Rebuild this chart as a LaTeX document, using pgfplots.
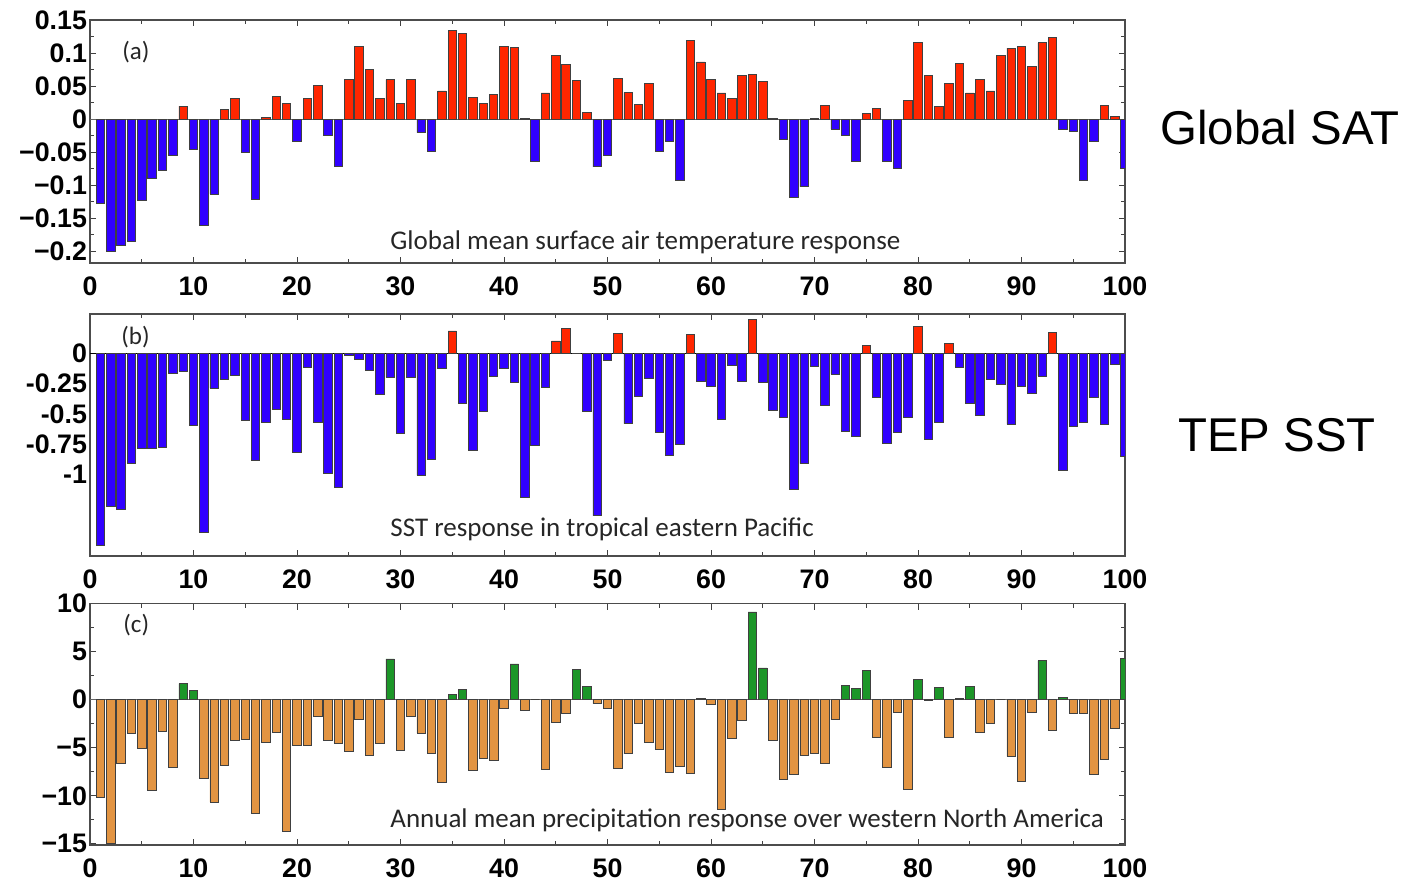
\documentclass[border=0pt]{standalone}
\usepackage{pgfplots}
\pgfplotsset{compat=1.18}
\usepackage{pgfplotstable}
\usepackage{fontspec}
\setmainfont{Liberation Sans}
\newfontfamily\carlito{Carlito}

\definecolor{myred}{RGB}{255,38,0}
\definecolor{myblue}{RGB}{48,0,255}
\definecolor{myorange}{RGB}{226,148,66}
\definecolor{mygreen}{RGB}{28,150,40}

\pgfplotstableread{
x y
1 -0.127
2 -0.200
3 -0.191
4 -0.185
5 -0.123
6 -0.089
7 -0.078
8 -0.054
9 0.020
10 -0.046
11 -0.160
12 -0.113
13 0.015
14 0.032
15 -0.050
16 -0.121
17 0.003
18 0.035
19 0.024
20 -0.033
21 0.031
22 0.051
23 -0.025
24 -0.071
25 0.060
26 0.110
27 0.076
28 0.032
29 0.060
30 0.024
31 0.060
32 -0.020
33 -0.048
34 0.043
35 0.134
36 0.130
37 0.033
38 0.024
39 0.038
40 0.110
41 0.109
42 0.001
43 -0.063
44 0.040
45 0.097
46 0.083
47 0.059
48 0.011
49 -0.072
50 -0.054
51 0.062
52 0.041
53 0.023
54 0.054
55 -0.048
56 -0.034
57 -0.092
58 0.120
59 0.087
60 0.060
61 0.040
62 0.032
63 0.066
64 0.068
65 0.057
66 0.001
67 -0.031
68 -0.119
69 -0.102
70 0.002
71 0.021
72 -0.015
73 -0.024
74 -0.063
75 0.009
76 0.017
77 -0.063
78 -0.074
79 0.028
80 0.116
81 0.066
82 0.020
83 0.055
84 0.084
85 0.040
86 0.061
87 0.043
88 0.097
89 0.108
90 0.111
91 0.080
92 0.116
93 0.124
94 -0.016
95 -0.018
96 -0.092
97 -0.034
98 0.021
99 0.004
100 -0.074
}\sat

\pgfplotstableread{
x y
1 -1.584
2 -1.265
3 -1.284
4 -0.908
5 -0.784
6 -0.784
7 -0.773
8 -0.168
9 -0.149
10 -0.597
11 -1.480
12 -0.286
13 -0.217
14 -0.182
15 -0.556
16 -0.886
17 -0.567
18 -0.462
19 -0.542
20 -0.820
21 -0.116
22 -0.572
23 -0.990
24 -1.106
25 -0.020
26 -0.050
27 -0.140
28 -0.338
29 -0.198
30 -0.660
31 -0.201
32 -1.007
33 -0.877
34 -0.127
35 0.184
36 -0.415
37 -0.800
38 -0.481
39 -0.193
40 -0.127
41 -0.237
42 -1.191
43 -0.756
44 -0.281
45 0.102
46 0.204
47 0.000
48 -0.481
49 -1.339
50 -0.060
51 0.165
52 -0.580
53 -0.358
54 -0.204
55 -0.655
56 -0.844
57 -0.748
58 0.157
59 -0.231
60 -0.272
61 -0.547
62 -0.102
63 -0.231
64 0.281
65 -0.237
66 -0.468
67 -0.528
68 -1.125
69 -0.910
70 -0.105
71 -0.426
72 -0.171
73 -0.646
74 -0.688
75 0.061
76 -0.366
77 -0.743
78 -0.649
79 -0.531
80 0.220
81 -0.710
82 -0.572
83 0.080
84 -0.118
85 -0.415
86 -0.509
87 -0.215
88 -0.259
89 -0.586
90 -0.272
91 -0.327
92 -0.187
93 0.171
94 -0.963
95 -0.605
96 -0.572
97 -0.363
98 -0.586
99 -0.091
100 -0.847
}\sst

\pgfplotstableread{
x y
1 -10.14
2 -15.00
3 -6.60
4 -3.47
5 -5.07
6 -9.44
7 -3.30
8 -7.01
9 1.67
10 0.97
11 -8.16
12 -10.66
13 -6.84
14 -4.24
15 -4.17
16 -11.88
17 -4.41
18 -3.40
19 -13.68
20 -4.76
21 -4.76
22 -1.77
23 -4.20
24 -4.58
25 -5.38
26 -2.01
27 -5.80
28 -4.58
29 4.24
30 -5.28
31 -1.70
32 -3.47
33 -5.59
34 -8.65
35 0.56
36 1.08
37 -7.40
38 -6.11
39 -6.35
40 -0.90
41 3.72
42 -1.11
43 0.00
44 -7.26
45 -2.33
46 -1.46
47 3.16
48 1.42
49 -0.42
50 -0.87
51 -7.19
52 -5.63
53 -2.43
54 -4.44
55 -5.17
56 -7.57
57 -6.94
58 -7.71
59 0.10
60 -0.52
61 -11.42
62 -4.06
63 -2.15
64 9.13
65 3.30
66 -4.24
67 -8.30
68 -7.81
69 -5.80
70 -5.63
71 -6.67
72 -2.08
73 1.46
74 1.15
75 3.06
76 -3.89
77 -7.01
78 -1.35
79 -9.34
80 2.12
81 -0.05
82 1.25
83 -3.89
84 0.10
85 1.39
86 -3.37
87 -2.50
88 0.00
89 -5.90
90 -8.47
91 -1.35
92 4.06
93 -3.19
94 0.28
95 -1.46
96 -1.46
97 -7.78
98 -6.25
99 -3.02
100 4.27
}\pr

\pgfplotsset{
  panel/.style={
    scale only axis,
    width=517.5bp,
    anchor=north west,
    xmin=0, xmax=100,
    xtick={0,10,...,100},
    minor x tick num=1,
    tick align=inside,
    major tick length=3bp,
    minor tick length=2bp,
    tick style={black!75, line width=0.5bp},
    axis line style={black!70, line width=0.7bp},
    tick label style={font=\fontsize{13.4bp}{14bp}\selectfont\bfseries},
    /pgf/number format/assume math mode=true,
    xticklabel style={yshift=-3.5bp},
    yticklabel style={xshift=2bp},
  },
  barz/.style={ybar, bar width=0.82, bar shift=0pt, draw=black!75, line width=0.4bp},
}

\begin{document}
\begin{tikzpicture}
\useasboundingbox (0bp,0bp) rectangle (707bp,-441bp);

% Panel (a)
\begin{axis}[panel, at={(45bp,-10bp)}, height=121.5bp,
  ymin=-0.2177, ymax=0.1505,
  ytick={-0.2,-0.15,-0.1,-0.05,0,0.05,0.1,0.15},
  yticklabels={−0.2,−0.15,−0.1,−0.05,0,0.05,0.1,0.15},
  minor y tick num=1]
  \addplot[black!60, line width=0.6bp] coordinates {(0,0) (100,0)};
  \addplot[barz, fill=myred, restrict y to domain=0:1] table {\sat};
  \addplot[barz, fill=myblue, restrict y to domain=-1:0] table {\sat};
\end{axis}

% Panel (b)
\begin{axis}[panel, at={(45bp,-157bp)}, height=121bp,
  ymin=-1.672, ymax=0.324,
  ytick={-1,-0.75,-0.5,-0.25,0},
  yticklabels={-1,-0.75,-0.5,-0.25,0},
  ytick style={draw=none},
  minor ytick={0.177,-0.177,-0.354,-0.531,-0.708,-0.885,-1.062,-1.239,-1.416,-1.593}]
  \addplot[black, line width=0.7bp] coordinates {(0,0) (100,0)};
  \addplot[barz, fill=myred, restrict y to domain=0:1] table {\sst};
  \addplot[barz, fill=myblue, restrict y to domain=-2:0] table {\sst};
\end{axis}

% Panel (c)
\begin{axis}[panel, at={(45bp,-301.8bp)}, height=120.7bp,
  ymin=-15.12, ymax=10,
  ytick={-15,-10,-5,0,5,10},
  yticklabels={−15,−10,−5,0,5,10},
  minor y tick num=1]
  \addplot[black!60, line width=0.6bp] coordinates {(0,0) (100,0)};
  \addplot[barz, fill=mygreen, restrict y to domain=0:20] table {\pr};
  \addplot[barz, fill=myorange, restrict y to domain=-20:0] table {\pr};
\end{axis}

% Annotations
\begin{scope}[every node/.style={inner sep=0pt, text=black!85}]
\node[anchor=west, font=\carlito\fontsize{12.5bp}{13bp}\selectfont] at (61bp,-26bp) {(a)};
\node[anchor=west, font=\carlito\fontsize{12.5bp}{13bp}\selectfont] at (60.5bp,-168.5bp) {(b)};
\node[anchor=west, font=\carlito\fontsize{12.5bp}{13bp}\selectfont] at (61.5bp,-312.5bp) {(c)};
\node[anchor=west, font=\carlito\fontsize{13.5bp}{14bp}\selectfont] at (195bp,-121bp) {Global mean surface air temperature response};
\node[anchor=west, font=\carlito\fontsize{13.5bp}{14bp}\selectfont] at (195bp,-264.5bp) {SST response in tropical eastern Pacific};
\node[anchor=west, font=\carlito\fontsize{13.5bp}{14bp}\selectfont] at (195bp,-410bp) {Annual mean precipitation response over western North America};
\node[anchor=west, font=\fontsize{23.7bp}{25bp}\selectfont, text=black] at (580bp,-64bp) {Global SAT};
\node[anchor=west, font=\fontsize{23.7bp}{25bp}\selectfont, text=black] at (589bp,-217.5bp) {TEP SST};
\end{scope}
\end{tikzpicture}
\end{document}
